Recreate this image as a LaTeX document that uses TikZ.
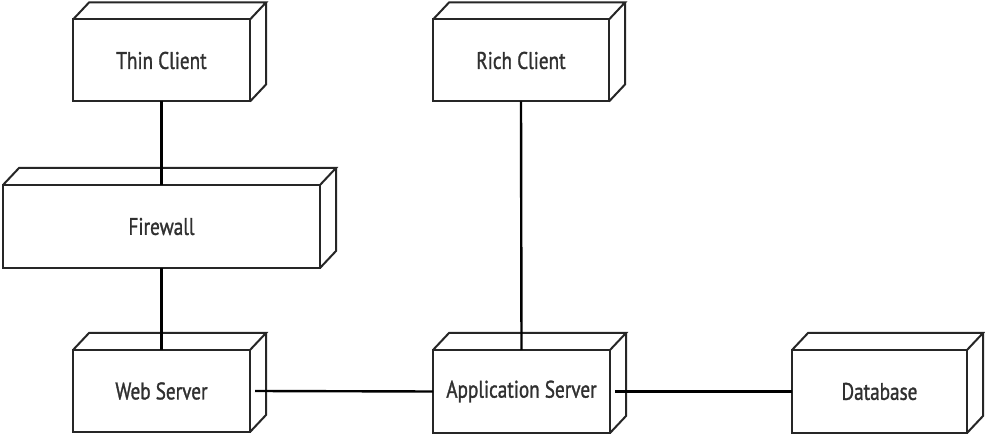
\documentclass[tikz,border=0pt]{standalone}
\usepackage{fontspec}
\setmainfont[FakeStretch=0.8,FakeBold=1.2]{PT Sans}
\definecolor{edge}{HTML}{262626}
\definecolor{txt}{HTML}{303030}
\newcommand\depthfaces[1]{%
  \draw[boxline] (#1.north west) -- ++(16,-17) -- ([shift={(16,-17)}]#1.north east) -- (#1.north east);
  \draw[boxline] ([shift={(16,-17)}]#1.north east) -- ([shift={(16,-17)}]#1.south east) -- (#1.south east);
}
\begin{document}
\begin{tikzpicture}[x=1pt,y=-1pt,
  boxline/.style={draw=edge,line width=2pt,line join=miter},
  unode/.style={boxline,rectangle,inner sep=0pt,outer sep=0pt,minimum height=82pt,
     font=\fontsize{24}{26}\selectfont,text=txt},
  conn/.style={draw=black,line width=2.4pt}]
\useasboundingbox (0,0) rectangle (985,435);
\fill[white] (0,0) rectangle (985,435);
\node[unode,minimum width=177pt] (thin) at (161.5,60.5) {Thin Client};
\node[unode,minimum width=176pt] (rich) at (521,60.5) {Rich Client};
\node[unode,minimum width=317pt,minimum height=83pt] (fw) at (161.5,226.5) {Firewall};
\node[unode,minimum width=177pt] (web) at (161.5,391) {Web Server};
\node[unode,minimum width=177pt,minimum height=83pt] (app) at (521.5,391.5) {Application Server};
\node[unode,minimum width=175pt,minimum height=83pt] (db) at (879.5,391.5) {Database};
\foreach \n in {thin,rich,fw,web,app,db} {\depthfaces{\n}}
\draw[conn] (thin.south) -- (fw.north);
\draw[conn] (fw.south) -- (web.north);
\draw[conn] (rich.south) -- (app.north);
\draw[conn] ([xshift=5pt]web.east) -- (app.west);
\draw[conn] ([xshift=5pt]app.east) -- (db.west);
\end{tikzpicture}
\end{document}
